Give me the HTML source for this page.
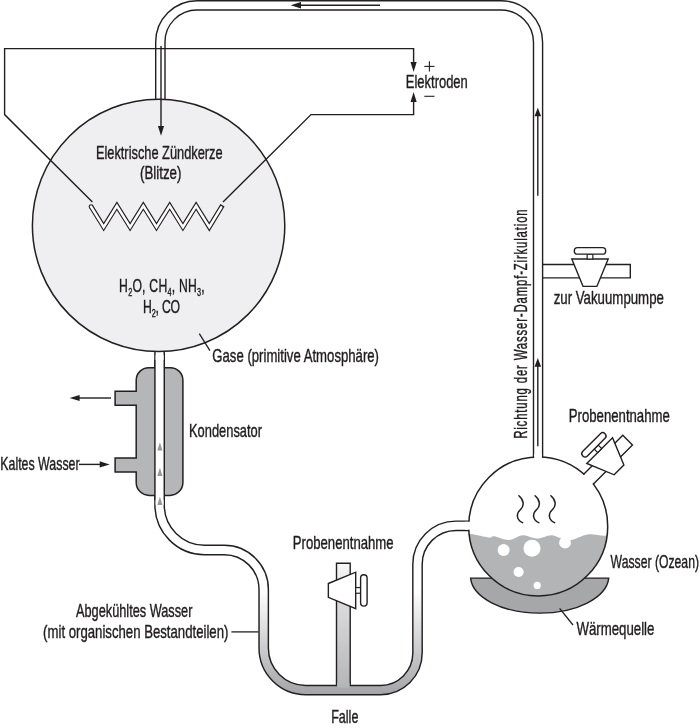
<!DOCTYPE html>
<html><head><meta charset="utf-8">
<style>
html,body{margin:0;padding:0;background:#fff;}
svg{display:block;will-change:transform;}
text{font-family:"Liberation Sans",sans-serif;font-size:18.5px;fill:#1f1c1d;stroke:#1f1c1d;stroke-width:0.4px;}
</style></head><body>
<svg width="700" height="728" viewBox="0 0 700 728">
<defs>
<linearGradient id="ug" gradientUnits="userSpaceOnUse" x1="0" y1="590" x2="0" y2="695">
<stop offset="0" stop-color="#ffffff"/><stop offset="1" stop-color="#a4a4a8"/>
</linearGradient>
<linearGradient id="pg" gradientUnits="userSpaceOnUse" x1="0" y1="563" x2="0" y2="690">
<stop offset="0" stop-color="#f8f8f8"/><stop offset="0.3" stop-color="#dcdcde"/><stop offset="1" stop-color="#b3b4b6"/>
</linearGradient>
<g id="tap">
<polygon points="-15,-6.9 12.35,-18.2 12.35,18.2 -15,6.9" fill="#fff" stroke="#231f20" stroke-width="1.4"/>
<rect x="12.35" y="-2.85" width="4.9" height="5.7" fill="#fff" stroke="#231f20" stroke-width="1.2"/>
<rect x="17.25" y="-15.7" width="6.5" height="31.4" rx="3.25" ry="3.25" fill="#fff" stroke="#231f20" stroke-width="1.4"/>
</g>
<clipPath id="flaskclip"><circle cx="538.2" cy="526.4" r="69.5"/></clipPath>
</defs>
<g fill="none" stroke="#231f20" stroke-width="1.4">
<path d="M155.7 99 V42 A41.3 41.3 0 0 1 197 0.7 H501 A41.6 41.6 0 0 1 542.6 42.3 V457.4"/>
<path d="M165 99 V42 A32 32 0 0 1 197 10 H501 A32.5 32.5 0 0 1 533.5 42.5 V457.4"/>
</g>
<!-- lower tube -->
<path d="M159.6 345 V505 A45 45 0 0 0 204.6 550 H224.2 A39.5 39.5 0 0 1 263.7 589.5 V648.1 A42 42 0 0 0 305.7 690.1 H380.5 A37 37 0 0 0 417.5 653.1 V564.3 A38.5 38.5 0 0 1 456 525.8 H472" fill="none" stroke="#231f20" stroke-width="10.8"/>
<path d="M159.6 345 V505 A45 45 0 0 0 204.6 550 H224.2 A39.5 39.5 0 0 1 263.7 589.5 V648.1 A42 42 0 0 0 305.7 690.1 H380.5 A37 37 0 0 0 417.5 653.1 V564.3 A38.5 38.5 0 0 1 456 525.8 H472" fill="none" stroke="url(#ug)" stroke-width="7.9"/>
<!-- circle -->
<circle cx="158.6" cy="225.4" r="126.2" fill="#efeff2" stroke="#231f20" stroke-width="1.5"/>
<!-- wires & arrows -->
<g fill="none" stroke="#231f20" stroke-width="1.4">
<polyline points="92.4,201.9 4.6,114.6 4.6,48.6 413.6,48.6 413.6,64"/>
<polyline points="223,202 311,114.6 413.6,114.6 413.6,100"/>
<line x1="161" y1="46" x2="161" y2="128"/>
<line x1="537.8" y1="115" x2="537.8" y2="195.7"/>
<line x1="537.8" y1="365" x2="537.8" y2="446.3"/>
<line x1="300" y1="5.3" x2="380" y2="5.3"/>
<line x1="111" y1="398" x2="79" y2="398"/>
<line x1="79" y1="464.4" x2="100" y2="464.4"/>
</g>
<g fill="#231f20" stroke="none">
<polygon points="413.6,72 410.5,62 416.7,62"/>
<polygon points="413.6,92 410.5,102 416.7,102"/>
<polygon points="161,135.7 157.9,126 164.1,126"/>
<polygon points="537.8,107.7 534.5,116.3 541.1,116.3"/>
<polygon points="537.8,357.9 534.5,366.8 541.1,366.8"/>
<polygon points="290.7,5.3 301,2.1 301,8.5"/>
<polygon points="69.6,398 79.6,394.9 79.6,401.1"/>
<polygon points="109.7,464.4 99.7,461.3 99.7,467.5"/>
</g>
<!-- zigzag -->
<path d="M91.05 206.6 L103.7 227.05 L116.9 205.8 L130.1 227.05 L143.3 205.8 L156.5 227.05 L169.7 205.8 L182.9 227.05 L196.1 205.8 L209.3 227.05 L222.5 205.25" fill="none" stroke="#231f20" stroke-width="4.8" stroke-miterlimit="10"/>
<circle cx="91.05" cy="206.6" r="2.4" fill="#231f20"/>
<path d="M91.05 206.6 L103.7 227.05 L116.9 205.8 L130.1 227.05 L143.3 205.8 L156.5 227.05 L169.7 205.8 L182.9 227.05 L196.1 205.8 L209.3 227.05 L221.22 207.36" fill="none" stroke="#ffffff" stroke-width="2.55" stroke-linecap="round" stroke-miterlimit="10"/>
<!-- condenser -->
<path d="M148.7 367.7 H170.4 A12.5 12.5 0 0 1 182.9 380.2 V482.4 A13 13 0 0 1 169.9 495.4 H149.2 A13 13 0 0 1 136.2 482.4 V472 H115.1 V458 H136.2 V405.2 H115.1 V391.3 H136.2 V380.2 A12.5 12.5 0 0 1 148.7 367.7 Z" fill="#b5b6b8" stroke="#231f20" stroke-width="1.5"/>
<path d="M159.6 360 V500" fill="none" stroke="#231f20" stroke-width="10.8"/>
<path d="M159.6 355 V505" fill="none" stroke="#fff" stroke-width="7.9"/>
<g fill="#98989a">
<polygon points="159.9,442.2 157.3,450.5 162.5,450.5"/>
<polygon points="159.9,467.7 157.3,476 162.5,476"/>
<polygon points="159.9,496.7 157.3,505 162.5,505"/>
</g>
<!-- falle pipe -->
<path d="M336.5 685.6 V563.2 H350.2 V685.6" fill="url(#pg)" stroke="#231f20" stroke-width="1.4"/>
<rect x="337.2" y="683" width="12.3" height="4.5" fill="url(#pg)"/>
<use href="#tap" transform="translate(343.35 590.4)"/>
<!-- vacuum arm -->
<path d="M542.6 264.5 H630.3 V277.9 H542.6" fill="none" stroke="#231f20" stroke-width="1.4"/>
<use href="#tap" transform="matrix(0 -1 1 0 590 271.4)"/>
<!-- bowl -->
<path d="M470.6 578.1 A69.16 37.15 0 0 0 608.7 578.1 Z" fill="#a6a7a9" stroke="#231f20" stroke-width="1.4" stroke-linejoin="miter"/>
<!-- flask -->
<circle cx="538.2" cy="526.4" r="69.5" fill="#fff"/>
<g clip-path="url(#flaskclip)">
<path d="M462 534 C463.5 534.0 466.5 533.5 471 534.1 C475.5 534.7 485.2 537.2 489 537.6 C492.8 538.0 490.7 535.9 494 536.3 C497.3 536.7 504.2 540.2 509 540 C513.8 539.8 518.3 535.5 523 535.2 C527.7 535.0 532.3 538.5 537 538.5 C541.7 538.5 547.2 535.3 551 535.2 C554.8 535.1 556.7 537.2 560 538 C563.3 538.8 566.4 540.6 571 540 C575.6 539.4 582.0 535.1 587.5 534.4 C593.0 533.7 599.6 535.6 604 535.7 C608.4 535.8 612.3 535.1 614 535 V600 H462 Z" fill="#b3b4b6"/>
</g>
<g fill="#fff">
<circle cx="503.6" cy="550" r="6"/>
<circle cx="532" cy="548.2" r="8.5"/>
<circle cx="565" cy="542.7" r="5.9"/>
<circle cx="518.6" cy="572" r="5.1"/>
<circle cx="537.2" cy="585.4" r="3.6"/>
</g>
<circle cx="538.2" cy="526.4" r="69.5" fill="none" stroke="#231f20" stroke-width="1.5"/>
<rect x="534.2" y="454" width="7.7" height="7" fill="#fff"/>
<rect x="465" y="521.8" width="8" height="7.9" fill="#fff"/>
<g transform="matrix(-0.7071 -0.7071 -0.7071 0.7071 608.4 459.3)">
<rect x="-6.15" y="-27.2" width="12.3" height="61" fill="#fff" stroke="none"/>
<path d="M-6.85 28.4 V-27.2 H6.85 V28.4" fill="none" stroke="#231f20" stroke-width="1.4"/>
</g>
<use href="#tap" transform="matrix(-0.7071 -0.7071 -0.7071 0.7071 608.4 459.3)"/>
<!-- steam -->
<g fill="none" stroke="#231f20" stroke-width="1.5" stroke-linecap="round">
<path d="M518.9 495.7 C524 500 524.5 506 520.5 509.5 C516.5 513 515.5 519.5 522.6 522.6"/>
<path d="M535.1 495.7 C540.2 500 540.7 506 536.7 509.5 C532.7 513 531.7 519.5 538.8 522.6"/>
<path d="M550.9 495.7 C556 500 556.5 506 552.5 509.5 C548.5 513 547.5 519.5 554.6 522.6"/>
</g>
<!-- leaders -->
<g stroke="#231f20" stroke-width="1.3">
<line x1="199.3" y1="333.6" x2="209.9" y2="350.7"/>
<line x1="231.4" y1="631.9" x2="258.6" y2="631.9"/>
<line x1="559.6" y1="608.4" x2="573" y2="625"/>
<line x1="424.3" y1="66.4" x2="434.5" y2="66.4" stroke-width="1.1"/>
<line x1="429.4" y1="61.3" x2="429.4" y2="71.5" stroke-width="1.1"/>
<line x1="424.3" y1="96.3" x2="434.5" y2="96.3" stroke-width="1.1"/>
</g>
<g style="opacity:0.999">
<text x="405.8" y="87.9" textLength="62.0" lengthAdjust="spacingAndGlyphs">Elektroden</text>
<text x="95.9" y="158.6" textLength="126.7" lengthAdjust="spacingAndGlyphs">Elektrische Zündkerze</text>
<text x="140.0" y="179" textLength="41.4" lengthAdjust="spacingAndGlyphs">(Blitze)</text>
<text x="212.3" y="362" textLength="166.7" lengthAdjust="spacingAndGlyphs">Gase (primitive Atmosphäre)</text>
<text x="189.0" y="436.5" textLength="73.0" lengthAdjust="spacingAndGlyphs">Kondensator</text>
<text x="0.3" y="470.4" textLength="79.3" lengthAdjust="spacingAndGlyphs">Kaltes Wasser</text>
<text x="76.0" y="616.9" textLength="116.4" lengthAdjust="spacingAndGlyphs">Abgekühltes Wasser</text>
<text x="43.1" y="637.9" textLength="185.3" lengthAdjust="spacingAndGlyphs">(mit organischen Bestandteilen)</text>
<text x="292.8" y="548.5" textLength="100.8" lengthAdjust="spacingAndGlyphs">Probenentnahme</text>
<text x="331.2" y="722.5" textLength="27.2" lengthAdjust="spacingAndGlyphs">Falle</text>
<text x="568.8" y="422.4" textLength="101.0" lengthAdjust="spacingAndGlyphs">Probenentnahme</text>
<text x="610.6" y="567.8" textLength="88.4" lengthAdjust="spacingAndGlyphs">Wasser (Ozean)</text>
<text x="576.4" y="634.8" textLength="78.0" lengthAdjust="spacingAndGlyphs">Wärmequelle</text>
<text x="553.7" y="304" textLength="110.2" lengthAdjust="spacingAndGlyphs">zur Vakuumpumpe</text>
<text transform="translate(119.1 291.9) scale(0.66 1)" x="0" y="0" textLength="129.7" lengthAdjust="spacing">H<tspan font-size="11" dy="4">2</tspan><tspan dy="-4">O, CH</tspan><tspan font-size="11" dy="4">4</tspan><tspan dy="-4">, NH</tspan><tspan font-size="11" dy="4">3</tspan><tspan dy="-4">,</tspan></text>
<text transform="translate(143.1 312.9) scale(0.66 1)" x="0" y="0" textLength="56" lengthAdjust="spacing">H<tspan font-size="11" dy="4">2</tspan><tspan dy="-4">, CO</tspan></text>
<text transform="translate(526.8 438.8) rotate(-90) scale(0.64 1)" x="0" y="0" textLength="358.5" lengthAdjust="spacing" style="font-size:17.8px">Richtung der Wasser-Dampf-Zirkulation</text>
</g>
</svg>
</body></html>
